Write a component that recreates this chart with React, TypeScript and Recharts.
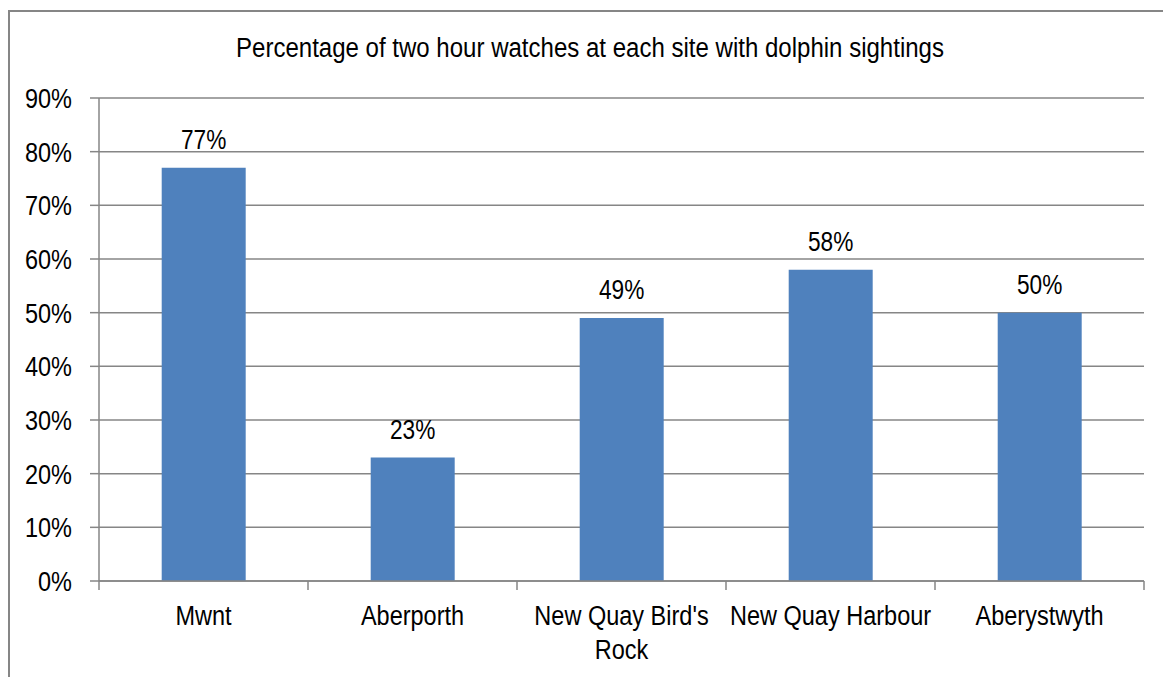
import { BarChart, Bar, XAxis, YAxis, CartesianGrid, LabelList } from "recharts";

const sites = ["Mwnt", "Aberporth", "New Quay Bird's Rock", "New Quay Harbour", "Aberystwyth"];
const sightingPct = [77, 23, 49, 58, 50];
const yTicks = [0, 10, 20, 30, 40, 50, 60, 70, 80, 90];

const data = sites.map((site, i) => ({ site, pct: sightingPct[i] }));

const W = 1163;
const H = 677;
const MARGIN = { top: 98, right: 19, bottom: 0, left: 0 };
const Y_AXIS_W = 99;
const X_AXIS_H = 96;
const BAND = (W - MARGIN.right - Y_AXIS_W) / sites.length;

const FONT = "'Liberation Sans', Arial, sans-serif";
const SQUEEZE = 0.84;
const GRID = "#868686";

function wrap(label: string, max = 16): string[] {
  const lines: string[] = [];
  let cur = "";
  for (const word of label.split(" ")) {
    const next = cur ? `${cur} ${word}` : word;
    if (next.length > max && cur) {
      lines.push(cur);
      cur = word;
    } else {
      cur = next;
    }
  }
  if (cur) lines.push(cur);
  return lines;
}

// eslint-disable-next-line @typescript-eslint/no-explicit-any
function SiteTick(props: any) {
  const { x, y, payload, index, visibleTicksCount } = props;
  const lines = wrap(String(payload.value));
  const left = x - BAND / 2;
  const right = x + BAND / 2;
  return (
    <g>
      <line x1={left} x2={left} y1={y} y2={y + 9} stroke={GRID} strokeWidth={1.5} />
      {index === visibleTicksCount - 1 && (
        <line x1={right} x2={right} y1={y} y2={y + 9} stroke={GRID} strokeWidth={1.5} />
      )}
      {lines.map((line, i) => (
        <text
          key={i}
          transform={`translate(${x},${y + 44 + i * 34}) scale(${SQUEEZE},1)`}
          textAnchor="middle"
          fontFamily={FONT}
          fontSize={28}
          fill="#000"
        >
          {line}
        </text>
      ))}
    </g>
  );
}

// eslint-disable-next-line @typescript-eslint/no-explicit-any
function PctTick(props: any) {
  const { y, payload } = props;
  return (
    <text
      transform={`translate(72,${y + 10}) scale(${SQUEEZE},1)`}
      textAnchor="end"
      fontFamily={FONT}
      fontSize={28}
      fill="#000"
    >
      {`${payload.value}%`}
    </text>
  );
}

// eslint-disable-next-line @typescript-eslint/no-explicit-any
function BarValue(props: any) {
  const { x, y, width, value } = props;
  return (
    <text
      transform={`translate(${x + width / 2},${y - 19}) scale(${SQUEEZE},1)`}
      textAnchor="middle"
      fontFamily={FONT}
      fontSize={27}
      fill="#000"
    >
      {`${value}%`}
    </text>
  );
}

export default function App() {
  return (
    <div style={{ position: "absolute", left: 0, top: 0, width: W, height: H, background: "#fff", overflow: "hidden" }}>
      <div
        style={{
          position: "absolute",
          left: 8,
          top: 10,
          width: W + 40,
          height: H + 40,
          borderLeft: `2px solid ${GRID}`,
          borderTop: `2px solid ${GRID}`,
        }}
      />
      <div
        style={{
          position: "absolute",
          left: 40,
          width: 1100,
          top: 33,
          textAlign: "center",
          fontFamily: FONT,
          fontSize: 27,
          lineHeight: "30px",
          color: "#000",
          transform: "scaleX(0.89)",
          whiteSpace: "nowrap",
        }}
      >
        Percentage of two hour watches at each site with dolphin sightings
      </div>
      <div style={{ position: "absolute", left: 0, top: 0 }}>
        <BarChart width={W} height={H} data={data} margin={MARGIN} barCategoryGap="30%">
          <CartesianGrid vertical={false} stroke={GRID} strokeWidth={1.5} />
          <XAxis
            dataKey="site"
            height={X_AXIS_H}
            interval={0}
            tickLine={false}
            tickSize={0}
            tickMargin={0}
            axisLine={{ stroke: GRID, strokeWidth: 1.5 }}
            tick={<SiteTick />}
          />
          <YAxis
            width={Y_AXIS_W}
            domain={[0, 90]}
            ticks={yTicks}
            interval={0}
            tickSize={9}
            tickLine={{ stroke: GRID, strokeWidth: 1.5 }}
            axisLine={{ stroke: GRID, strokeWidth: 1.5 }}
            tick={<PctTick />}
          />
          <Bar dataKey="pct" fill="#4F81BD" isAnimationActive={false}>
            <LabelList dataKey="pct" content={<BarValue />} />
          </Bar>
        </BarChart>
      </div>
    </div>
  );
}
